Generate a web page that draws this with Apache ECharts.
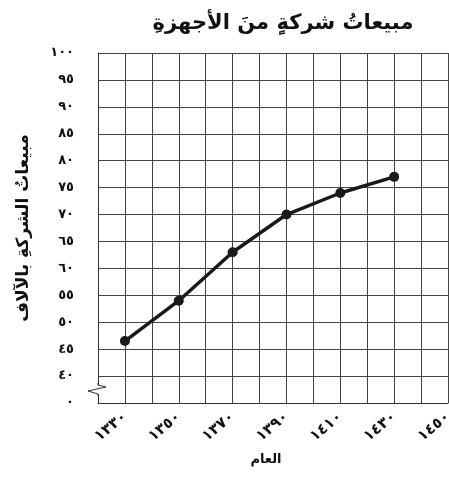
<!DOCTYPE html>
<html>
<head>
<meta charset="utf-8">
<script src="https://cdn.jsdelivr.net/npm/echarts@6/dist/echarts.min.js"></script>
<style>
html,body{margin:0;padding:0;background:#fff;}
#c{width:449px;height:490px;}
</style>
</head>
<body>
<div id="c"></div>
<script>
// ---- data ----
var years = [1330, 1350, 1370, 1390, 1410, 1430];
var sales = [46.5, 54, 63, 70, 74, 77];

var xTickYears = [1330, 1350, 1370, 1390, 1410, 1430, 1450];
var xTickLabels = ['١٣٣٠', '١٣٥٠', '١٣٧٠', '١٣٩٠', '١٤١٠', '١٤٣٠', '١٤٥٠'];

// 35 stands for the broken-axis zero
var yTickValues = [35, 40, 45, 50, 55, 60, 65, 70, 75, 80, 85, 90, 95, 100];
var yTickLabels = ['٠', '٤٠', '٤٥', '٥٠', '٥٥', '٦٠', '٦٥', '٧٠', '٧٥', '٨٠', '٨٥', '٩٠', '٩٥', '١٠٠'];

var titleText = 'مبيعاتُ شركةٍ منَ الأجهزةِ';
var yName = 'مبيعاتُ الشركةِ بالآلاف';
var xName = 'العام';

var FONT = '"DejaVu Sans", sans-serif';
var chart = echarts.init(document.getElementById('c'));

var points = years.map(function (y, i) { return [y, sales[i]]; });

chart.setOption({
  animation: false,
  title: {
    text: titleText,
    left: 278, top: 8, textAlign: 'center',
    textStyle: { fontFamily: FONT, fontSize: 21, fontWeight: 'bold', color: '#111' }
  },
  grid: { left: 98, right: 1, top: 53, bottom: 87, outerBoundsMode: 'none', containLabel: false },
  xAxis: {
    type: 'value', min: 1320, max: 1450, interval: 10,
    name: xName, nameLocation: 'middle', nameGap: 50,
    nameTextStyle: { fontFamily: FONT, fontSize: 13, fontWeight: 'bold', color: '#111', padding: [0, 14, 0, 0] },
    axisLine: { show: true, lineStyle: { color: '#333', width: 1 } },
    axisTick: { show: false },
    splitLine: { show: true, lineStyle: { color: '#444', width: 1 } },
    axisLabel: {
      rotate: 40, margin: 12, hideOverlap: false,
      fontFamily: FONT, fontSize: 15, fontWeight: 'bold', color: '#111',
      formatter: function (v) { var i = xTickYears.indexOf(v); return i >= 0 ? xTickLabels[i] : ''; }
    }
  },
  yAxis: {
    type: 'value', min: 35, max: 100, interval: 5,
    name: yName, nameLocation: 'middle', nameGap: 66, nameRotate: 90,
    nameTextStyle: { fontFamily: FONT, fontSize: 17, fontWeight: 'bold', color: '#111' },
    axisLine: { show: true, lineStyle: { color: '#333', width: 1 } },
    axisTick: { show: false },
    splitLine: { show: true, lineStyle: { color: '#444', width: 1 } },
    axisLabel: {
      margin: 24, padding: [8, 0, 0, 0],
      fontFamily: FONT, fontSize: 13, fontWeight: 'bold', color: '#111',
      formatter: function (v) { var i = yTickValues.indexOf(v); return i >= 0 ? yTickLabels[i] : ''; }
    }
  },
  series: [{
    type: 'line',
    data: points,
    symbol: 'circle', symbolSize: 10,
    lineStyle: { color: '#1a1a1a', width: 3.5 },
    itemStyle: { color: '#1a1a1a' }
  }]
});

// axis break zigzag on the y axis between 0 and 40
var p = chart.convertToPixel({ gridIndex: 0 }, [1320, 37.6]);
var x0 = p[0], y0 = p[1];
chart.setOption({
  graphic: [
    { type: 'rect', shape: { x: x0 - 2, y: y0 - 4, width: 4, height: 9 }, style: { fill: '#fff' }, z: 100 },
    { type: 'polyline', shape: { points: [[x0, y0 - 6], [x0, y0 - 4], [x0 + 8, y0 - 2], [x0 - 10, y0 + 2], [x0, y0 + 5], [x0, y0 + 7]] },
      style: { stroke: '#333', lineWidth: 1, fill: null }, z: 101 }
  ]
});
</script>
</body>
</html>
